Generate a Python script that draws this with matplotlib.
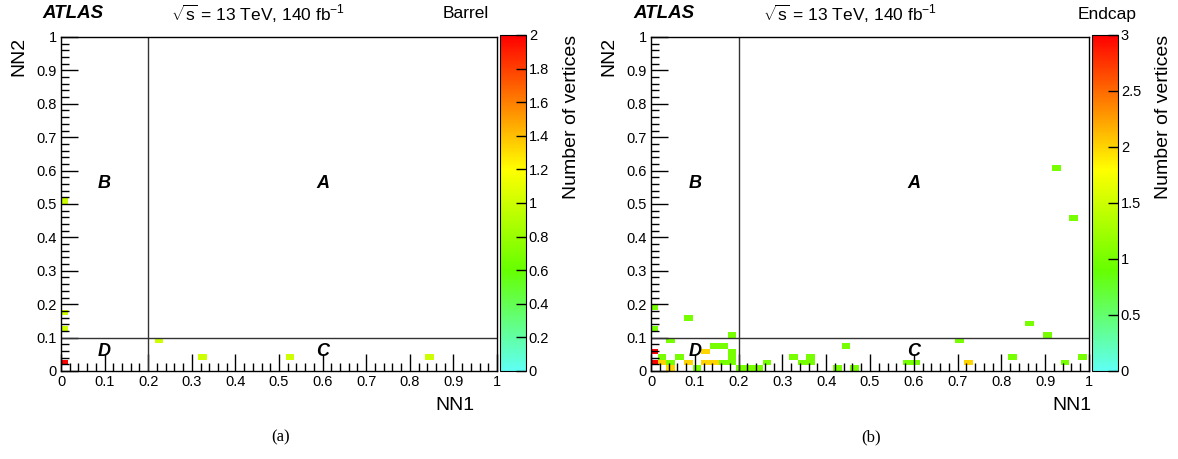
import numpy as np
import matplotlib
matplotlib.use('Agg')
import matplotlib.pyplot as plt
from matplotlib.colors import LinearSegmentedColormap
from matplotlib.ticker import MultipleLocator, FuncFormatter

plt.rcParams['font.family'] = ['Liberation Sans', 'DejaVu Sans']
plt.rcParams['mathtext.fontset'] = 'custom'
plt.rcParams['mathtext.rm'] = 'Liberation Sans'
plt.rcParams['mathtext.it'] = 'Liberation Sans:italic'

# Barrel vertices (NN1, NN2, count)
barrel_nn1 = [0.005, 0.005, 0.005, 0.005, 0.222, 0.322, 0.522, 0.842]
barrel_nn2 = [0.51, 0.175, 0.125, 0.025, 0.092, 0.042, 0.042, 0.042]
barrel_n = [1, 1, 1, 2, 1, 1, 1, 1]

# Endcap vertices (NN1, NN2, count)
endcap_nn1 = [0.005, 0.082, 0.005, 0.182, 0.042, 0.142, 0.162, 0.005, 0.122, 0.182,
              0.022, 0.062, 0.182, 0.005, 0.022, 0.042, 0.082, 0.122, 0.142, 0.162,
              0.182, 0.262, 0.322, 0.342, 0.362, 0.362, 0.442, 0.422, 0.462, 0.59,
              0.61, 0.702, 0.722, 0.822, 0.862, 0.902, 0.942, 0.985, 0.922, 0.962,
              0.042, 0.102, 0.202, 0.222, 0.242]
endcap_nn2 = [0.192, 0.158, 0.125, 0.108, 0.092, 0.075, 0.075, 0.058, 0.058, 0.058,
              0.042, 0.042, 0.042, 0.025, 0.025, 0.025, 0.025, 0.025, 0.025, 0.025,
              0.025, 0.025, 0.042, 0.025, 0.025, 0.042, 0.075, 0.008, 0.008, 0.025,
              0.025, 0.092, 0.025, 0.042, 0.142, 0.108, 0.025, 0.042, 0.608, 0.458,
              0.008, 0.008, 0.008, 0.008, 0.008]
endcap_n = [1, 1, 1, 1, 1, 1, 1, 3, 2, 1,
            1, 1, 1, 3, 2, 1, 2, 2, 2, 1,
            1, 1, 1, 1, 1, 1, 1, 1, 1, 1,
            1, 1, 2, 1, 1, 1, 1, 1, 1, 1,
            2, 1, 1, 1, 1]

# region labels
region_names = ['A', 'B', 'C', 'D']
region_x = [0.6, 0.1, 0.6, 0.1]
region_y = [0.56, 0.56, 0.057, 0.057]

xedges = np.arange(52) * 0.02 - 0.005
yedges = np.arange(61) / 60.0

cmap = LinearSegmentedColormap.from_list(
    'vtx', [(0.0, '#5ffff5'), (0.3, '#66ff00'), (0.6, '#ffff00'), (1.0, '#ff0000')])

W, H = 1178.0, 459.0
fig = plt.figure(figsize=(W / 100, H / 100), dpi=100)


def fmt(v, p):
    return '%g' % round(v, 3)


def draw_panel(left, width, cb_left, nn1, nn2, counts, zmax, zstep, det, det_x,
               atlas_x, lumi_x, nn1_x, cap_x, cap):
    ax = fig.add_axes([left / W, (H - 371) / H, width / W, 334 / H])
    ax.hist2d(nn1, nn2, bins=[xedges, yedges], weights=counts, cmap=cmap,
              vmin=0, vmax=zmax, cmin=0.5)
    ax.set_xlim(0, 1)
    ax.set_ylim(0, 1)
    ax.axvline(0.2, color='#333333', lw=1)
    ax.axhline(0.1, color='#333333', lw=1)
    for name, x, y in zip(region_names, region_x, region_y):
        ax.text(x, y, name, fontsize=13, fontweight='bold', style='italic',
                ha='center', va='center')
    ax.xaxis.set_major_locator(MultipleLocator(0.1))
    ax.yaxis.set_major_locator(MultipleLocator(0.1))
    ax.xaxis.set_minor_locator(MultipleLocator(0.02))
    ax.yaxis.set_minor_locator(MultipleLocator(0.02))
    ax.xaxis.set_major_formatter(FuncFormatter(fmt))
    ax.yaxis.set_major_formatter(FuncFormatter(fmt))
    ax.tick_params(which='major', direction='in', length=12, width=1, labelsize=10.5,
                   top=False, right=False, pad=3)
    ax.tick_params(which='minor', direction='in', length=6, width=1,
                   top=False, right=False)
    for s in ax.spines.values():
        s.set_linewidth(1)

    cax = fig.add_axes([cb_left / W, (H - 371) / H, 26 / W, 336 / H])
    sm = plt.cm.ScalarMappable(cmap=cmap, norm=plt.Normalize(0, zmax))
    cb = fig.colorbar(sm, cax=cax)
    cb.set_ticks(np.arange(0, zmax + 0.001, zstep))
    cb.ax.yaxis.set_major_formatter(FuncFormatter(fmt))
    cb.ax.tick_params(direction='in', length=7, width=1, labelsize=10.5, pad=2)
    cb.outline.set_linewidth(0.8)

    fig.text(cb_left / W + 72 / W, 1 - 35 / H, 'Number of vertices', rotation=90,
             ha='center', va='top', fontsize=14)
    fig.text(atlas_x / W, 1 - 14 / H, 'ATLAS', fontsize=13.5, fontweight='bold',
             style='italic', ha='left', va='center')
    fig.text(lumi_x / W, 1 - 14 / H, r'$\sqrt{\mathrm{s}}$ = 13 TeV, 140 fb$^{-1}$',
             fontsize=12.5, ha='center', va='center')
    fig.text(det_x / W, 1 - 14 / H, det, fontsize=12.5, ha='right', va='center')
    fig.text(19 / W + (left - 61) / W, 1 - 37 / H, 'NN2', rotation=90, fontsize=14,
             ha='center', va='top')
    fig.text(nn1_x / W, 1 - 405 / H, 'NN1', fontsize=14, ha='right', va='center')
    fig.text(cap_x / W, 1 - 437 / H, cap, fontsize=12, family='Liberation Serif',
             ha='center', va='center')
    return ax


draw_panel(61, 436, 500, barrel_nn1, barrel_nn2, barrel_n, 2, 0.2, 'Barrel', 489,
           42, 258, 475, 281, '(a)')
draw_panel(651, 438, 1092, endcap_nn1, endcap_nn2, endcap_n, 3, 0.5, 'Endcap', 1137,
           633, 850, 1091, 871, '(b)')

fig.savefig('out.png', dpi=100)
